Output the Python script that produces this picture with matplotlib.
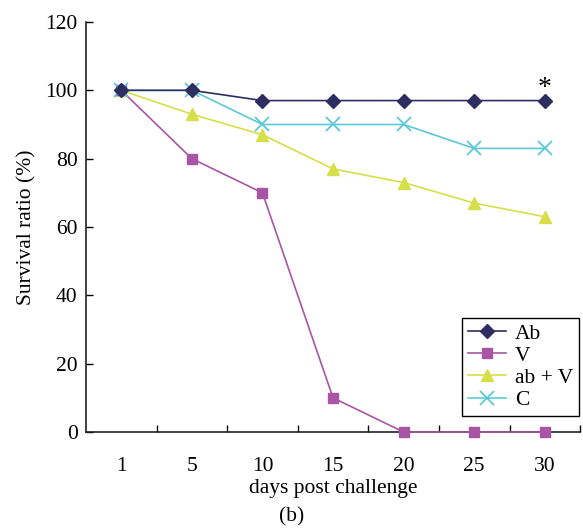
import matplotlib.pyplot as plt

plt.rcParams['font.family'] = ['Liberation Serif', 'DejaVu Serif']

days = ['1', '5', '10', '15', '20', '25', '30']
ab = [100, 100, 97, 97, 97, 97, 97]
v = [100, 80, 70, 10, 0, 0, 0]
ab_v = [100, 93, 87, 77, 73, 67, 63]
c = [100, 100, 90, 90, 90, 83, 83]

x = list(range(len(days)))
fs = 15.5

fig = plt.figure(figsize=(5.83, 5.31), dpi=100)
ax = fig.add_axes([0.1475, 0.1864, 0.8475, 0.7722])

ax.plot(x, ab, '-D', color='#2e2d62', ms=7, lw=1.2, label='Ab', zorder=5, clip_on=False)
ax.plot(x, v, '-s', color='#a855a5', ms=7.5, lw=1.2, label='V', zorder=3, clip_on=False)
ax.plot(x, ab_v, '-^', color='#d6df4a', ms=8.5, lw=1.2, label='ab + V', zorder=2, clip_on=False)
ax.plot(x, c, '-x', color='#5cc8d8', ms=9.5, mew=1.3, lw=1.2, label='C', zorder=4, clip_on=False)

ax.text(x[-1], ab[-1] + 3.5, '*', ha='center', va='center', fontsize=20)

ax.set_xlim(-0.5, 6.5)
ax.set_ylim(0, 120)
ax.set_xticks(x)
ax.set_xticklabels(days)
ax.set_xticks([i + 0.5 for i in x], minor=True)
ax.set_yticks(range(0, 121, 20))
ax.tick_params(axis='x', which='major', length=0, pad=18, labelsize=fs)
ax.tick_params(axis='x', which='minor', direction='in', length=5, width=1)
ax.tick_params(axis='y', direction='in', length=5, width=1, labelsize=fs, pad=6)

for s in ['top', 'right']:
    ax.spines[s].set_visible(False)
for s in ['left', 'bottom']:
    ax.spines[s].set_linewidth(1.2)
    ax.spines[s].set_color('#222222')

ax.set_xlabel('days post challenge', fontsize=fs, labelpad=2)
ax.set_ylabel('Survival ratio (%)', fontsize=fs, labelpad=6)
fig.text(0.5, 0.018, '(b)', ha='center', fontsize=fs)

leg = ax.legend(loc='lower right', bbox_to_anchor=(0.997, 0.04), fontsize=fs,
                fancybox=False, framealpha=1, edgecolor='black',
                handlelength=1.8, borderpad=0.25, labelspacing=0.1, handletextpad=0.4,
                borderaxespad=0)
leg.get_frame().set_linewidth(1.0)

fig.savefig('out.png', dpi=100)
